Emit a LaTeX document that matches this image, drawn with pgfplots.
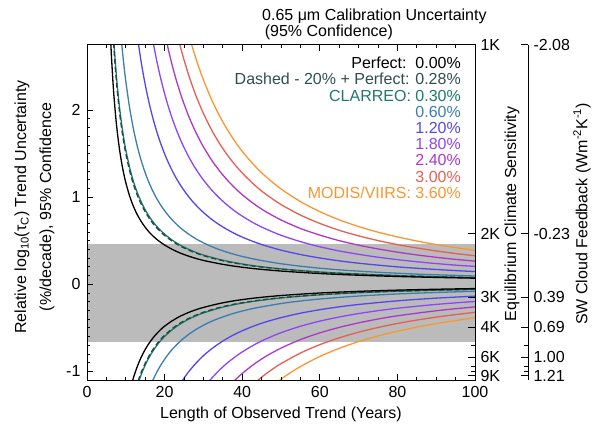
\documentclass[border=0pt]{standalone}
\usepackage{pgfplots}
\pgfplotsset{compat=1.18}
\usepackage{fontspec}
\setmainfont{Liberation Sans}
\definecolor{cDash}{RGB}{30,75,60}
\definecolor{cDashT}{RGB}{47,79,79}
\definecolor{cTeal}{RGB}{30,120,110}
\definecolor{cSteel}{RGB}{60,125,175}
\definecolor{cBlue}{RGB}{85,70,235}
\definecolor{cViolet}{RGB}{140,70,245}
\definecolor{cPurple}{RGB}{175,55,200}
\definecolor{cSalmon}{RGB}{230,95,85}
\definecolor{cOrange}{RGB}{250,150,50}
\definecolor{cBand}{RGB}{187,187,187}
\begin{document}
\fontsize{16}{18}\selectfont
\begin{tikzpicture}
\path[use as bounding box] (-87pt,-46pt) rectangle (510pt,380pt);
\begin{axis}[at={(0pt,0pt)}, anchor=south west, scale only axis,
  width=388pt, height=335.3pt,
  xmin=0, xmax=100, ymin=-1.1, ymax=2.75,
  xtick={0,20,40,60,80,100}, minor x tick num=3,
  ytick={-1,0,1,2}, minor y tick num=9,
  ytick pos=left, xtick pos=both,
  tick align=inside, major tick length=6pt, minor tick length=3pt,
  axis on top, axis line style={line width=0.8pt},
  every tick/.style={line width=0.7pt, black},
  /pgf/number format/assume math mode=true,
  ticklabel style={font=\fontsize{16}{18}\selectfont},
  xticklabel style={yshift=-1pt},
  yticklabel style={xshift=-1pt},
  every axis plot/.append style={line width=1.3pt, line join=round}]
\addplot[fill=cBand, draw=none] coordinates {(0,-0.66) (100,-0.66) (100,0.46) (0,0.46)} -- cycle;
% ---------- upper curves ----------
\addplot[cOrange, smooth] coordinates {(26,2.907)(27,2.748)(28,2.602)(29,2.469)(30,2.347)(32,2.131)(34,1.946)(36,1.787)(38,1.648)(40,1.526)(43,1.370)(46,1.239)(50,1.094)(55,0.949)(60,0.833)(65,0.739)(70,0.662)(75,0.597)(80,0.543)(85,0.496)(90,0.455)(95,0.420)(100,0.389)};
\addplot[cSalmon, smooth] coordinates {(23,2.918)(24,2.738)(25,2.577)(26,2.430)(27,2.296)(28,2.174)(29,2.064)(30,1.962)(32,1.781)(34,1.627)(36,1.494)(38,1.379)(40,1.277)(43,1.146)(46,1.036)(50,0.915)(55,0.794)(60,0.698)(65,0.619)(70,0.555)(75,0.501)(80,0.455)(85,0.416)(90,0.382)(95,0.352)(100,0.327)};
\addplot[cPurple, smooth] coordinates {(20,2.890)(21,2.688)(22,2.507)(23,2.345)(24,2.201)(25,2.071)(26,1.953)(27,1.846)(28,1.749)(29,1.660)(30,1.578)(32,1.433)(34,1.310)(36,1.203)(38,1.110)(40,1.028)(43,0.923)(46,0.835)(50,0.738)(55,0.640)(60,0.564)(65,0.500)(70,0.448)(75,0.405)(80,0.368)(85,0.336)(90,0.309)(95,0.285)(100,0.265)};
\addplot[cViolet, smooth] coordinates {(17,2.788)(18,2.560)(19,2.362)(20,2.188)(21,2.035)(22,1.898)(23,1.777)(24,1.668)(25,1.570)(26,1.481)(27,1.400)(28,1.326)(29,1.259)(30,1.197)(32,1.088)(34,0.995)(36,0.914)(38,0.843)(40,0.782)(43,0.702)(46,0.636)(50,0.562)(55,0.489)(60,0.430)(65,0.382)(70,0.343)(75,0.310)(80,0.282)(85,0.258)(90,0.237)(95,0.219)(100,0.204)};
\addplot[cBlue, smooth] coordinates {(13,2.838)(14,2.541)(15,2.293)(16,2.083)(17,1.904)(18,1.749)(19,1.615)(20,1.497)(21,1.393)(22,1.300)(23,1.217)(24,1.143)(25,1.077)(26,1.017)(27,0.961)(28,0.912)(29,0.866)(30,0.824)(32,0.749)(34,0.686)(36,0.631)(38,0.583)(40,0.541)(43,0.487)(46,0.442)(50,0.391)(55,0.341)(60,0.301)(65,0.268)(70,0.241)(75,0.219)(80,0.199)(85,0.183)(90,0.169)(95,0.156)(100,0.145)};
\addplot[cSteel, smooth] coordinates {(8.5,2.987)(9,2.736)(9.5,2.520)(10,2.331)(11,2.021)(12,1.775)(13,1.577)(14,1.415)(15,1.279)(16,1.164)(17,1.066)(18,0.981)(19,0.908)(20,0.844)(21,0.787)(22,0.736)(23,0.691)(24,0.650)(25,0.614)(26,0.581)(27,0.551)(28,0.523)(29,0.498)(30,0.475)(32,0.434)(34,0.399)(36,0.369)(38,0.342)(40,0.319)(43,0.289)(46,0.264)(50,0.235)(55,0.207)(60,0.184)(65,0.165)(70,0.150)(75,0.137)(80,0.126)(85,0.116)(90,0.108)(95,0.101)(100,0.094)};
\addplot[cTeal, smooth] coordinates {(6.5,3.123)(7,2.739)(7.5,2.436)(8,2.191)(8.5,1.986)(9,1.815)(9.5,1.668)(10,1.542)(11,1.337)(12,1.176)(13,1.047)(14,0.942)(15,0.854)(16,0.780)(17,0.717)(18,0.663)(19,0.616)(20,0.574)(22,0.505)(24,0.449)(26,0.405)(28,0.367)(30,0.335)(34,0.286)(38,0.248)(43,0.212)(50,0.176)(60,0.140)(70,0.117)(80,0.099)(90,0.086)(100,0.076)};
\addplot[cDash, smooth, dash pattern=on 5pt off 3pt] coordinates {(6.5,3.045)(7,2.668)(7.5,2.371)(8,2.131)(8.5,1.932)(9,1.765)(9.5,1.622)(10,1.499)(11,1.300)(12,1.143)(13,1.018)(14,0.916)(15,0.831)(16,0.759)(17,0.698)(18,0.645)(19,0.600)(20,0.560)(22,0.493)(24,0.439)(26,0.395)(28,0.359)(30,0.328)(34,0.280)(38,0.243)(43,0.208)(50,0.173)(60,0.138)(70,0.115)(80,0.098)(90,0.085)(100,0.075)};
\addplot[black, smooth] coordinates {(6.0,2.90)(6.3,2.619)(6.7,2.315)(7,2.129)(7.5,1.876)(8,1.676)(8.5,1.512)(9,1.377)(9.5,1.263)(10,1.166)(11,1.011)(12,0.890)(13,0.795)(14,0.718)(15,0.654)(16,0.599)(17,0.554)(18,0.514)(19,0.480)(20,0.450)(22,0.399)(24,0.358)(26,0.325)(28,0.297)(30,0.273)(34,0.236)(38,0.207)(43,0.179)(50,0.151)(60,0.1225)(70,0.1029)(80,0.0886)(90,0.0778)(100,0.0691)};
% ---------- lower curves ----------
\addplot[cOrange, smooth] coordinates {(48,-1.160)(49,-1.125)(50,-1.091)(52,-1.029)(55,-0.946)(60,-0.830)(65,-0.737)(70,-0.659)(75,-0.594)(80,-0.540)(85,-0.493)(90,-0.452)(95,-0.417)(100,-0.386)};
\addplot[cSalmon, smooth] coordinates {(42,-1.184)(43,-1.143)(44,-1.105)(46,-1.033)(48,-0.970)(50,-0.912)(55,-0.791)(60,-0.694)(65,-0.616)(70,-0.551)(75,-0.497)(80,-0.451)(85,-0.412)(90,-0.378)(95,-0.349)(100,-0.323)};
\addplot[cPurple, smooth] coordinates {(36,-1.200)(37,-1.152)(38,-1.107)(40,-1.025)(43,-0.920)(46,-0.831)(50,-0.734)(55,-0.636)(60,-0.559)(65,-0.496)(70,-0.444)(75,-0.400)(80,-0.363)(90,-0.305)(100,-0.260)};
\addplot[cViolet, smooth] coordinates {(30,-1.196)(31,-1.138)(32,-1.086)(34,-0.992)(36,-0.910)(38,-0.840)(40,-0.778)(43,-0.698)(46,-0.631)(50,-0.557)(55,-0.483)(60,-0.424)(65,-0.377)(70,-0.337)(75,-0.304)(80,-0.276)(90,-0.232)(100,-0.198)};
\addplot[cBlue, smooth] coordinates {(23,-1.222)(24,-1.147)(25,-1.079)(26,-1.017)(27,-0.962)(28,-0.911)(30,-0.821)(32,-0.746)(34,-0.682)(36,-0.626)(38,-0.577)(40,-0.535)(43,-0.480)(46,-0.434)(50,-0.384)(55,-0.333)(60,-0.293)(65,-0.260)(70,-0.233)(80,-0.191)(90,-0.160)(100,-0.137)};
\addplot[cSteel, smooth] coordinates {(16,-1.206)(17,-1.100)(18,-1.009)(19,-0.930)(20,-0.862)(21,-0.801)(22,-0.747)(24,-0.656)(26,-0.583)(28,-0.522)(30,-0.471)(32,-0.428)(34,-0.392)(38,-0.332)(43,-0.277)(50,-0.222)(55,-0.193)(60,-0.170)(70,-0.136)(80,-0.112)(90,-0.095)(100,-0.081)};
\addplot[cTeal, smooth] coordinates {(12,-1.317)(13,-1.161)(14,-1.034)(15,-0.929)(16,-0.841)(17,-0.767)(18,-0.703)(19,-0.648)(20,-0.600)(22,-0.521)(24,-0.458)(26,-0.407)(28,-0.365)(30,-0.330)(34,-0.275)(38,-0.234)(43,-0.196)(50,-0.158)(60,-0.122)(70,-0.098)(80,-0.081)(90,-0.069)(100,-0.060)};
\addplot[cDash, smooth, dash pattern=on 5pt off 3pt] coordinates {(12,-1.288)(13,-1.135)(14,-1.010)(15,-0.908)(16,-0.822)(17,-0.750)(18,-0.687)(19,-0.633)(20,-0.586)(22,-0.509)(24,-0.447)(26,-0.397)(28,-0.357)(30,-0.322)(34,-0.269)(38,-0.229)(43,-0.192)(50,-0.155)(60,-0.120)(70,-0.096)(80,-0.080)(90,-0.068)(100,-0.058)};
\addplot[black, smooth] coordinates {(11,-1.236)(11.5,-1.148)(12,-1.070)(13,-0.940)(14,-0.835)(15,-0.749)(16,-0.678)(17,-0.617)(18,-0.566)(19,-0.521)(20,-0.482)(22,-0.419)(24,-0.368)(26,-0.328)(28,-0.294)(30,-0.267)(34,-0.223)(38,-0.190)(43,-0.160)(50,-0.130)(60,-0.101)(70,-0.082)(80,-0.068)(90,-0.058)(100,-0.050)};
\end{axis}
% Equilibrium climate sensitivity axis
\begin{axis}[at={(0pt,0pt)}, anchor=south west, scale only axis,
  width=388pt, height=335.3pt, xmin=0, xmax=1, ymin=-1.1, ymax=2.75,
  hide x axis, axis y line*=right, axis line style={line width=0.8pt},
  ytick={2.75,0.58,-0.15,-0.49,-0.84,-1.05},
  yticklabels={1K,2K,3K,4K,6K,9K},
  minor ytick={-0.70,-0.94,-1.00},
  tick align=inside, major tick length=7pt, minor tick length=4pt,
  every tick/.style={line width=0.7pt, black},
  ticklabel style={font=\fontsize{16}{18}\selectfont}]
\end{axis}
% SW cloud feedback axis
\begin{axis}[at={(53pt,0pt)}, anchor=south west, scale only axis,
  width=388pt, height=335.3pt, xmin=0, xmax=1, ymin=-1.1, ymax=2.75,
  hide x axis, axis y line*=right, axis line style={line width=0.8pt},
  ytick={2.75,0.58,-0.15,-0.49,-0.84,-1.05},
  yticklabels={-2.08,-0.23,0.39,0.69,1.00,1.21},
  minor ytick={-0.70,-0.94,-1.00},
  tick align=inside, major tick length=7pt, minor tick length=4pt,
  every tick/.style={line width=0.7pt, black},
  ticklabel style={font=\fontsize{16}{18}\selectfont}]
\end{axis}
% texts
\node[anchor=north west, align=left, inner sep=0pt, font=\fontsize{16}{14}\selectfont] at (175pt,371pt)
  {0.65 μm Calibration Uncertainty\\\,(95\% Confidence)};
\node[anchor=north east, align=right, inner sep=0pt, font=\fontsize{16}{16.2}\selectfont] at (374pt,323pt)
  {Perfect:\ \ 0.00\%\\
   \textcolor{cDashT}{Dashed - 20\% + Perfect: 0.28\%}\\
   \textcolor{cTeal}{CLARREO: 0.30\%}\\
   \textcolor{cSteel}{0.60\%}\\
   \textcolor{cBlue}{1.20\%}\\
   \textcolor{cViolet}{1.80\%}\\
   \textcolor{cPurple}{2.40\%}\\
   \textcolor{cSalmon}{3.00\%}\\
   \textcolor{cOrange}{MODIS/VIIRS: 3.60\%}};
\node[rotate=90, inner sep=0pt] at (-65pt,173pt) {Relative log\textsubscript{10}(τ\textsubscript{C}) Trend Uncertainty};
\node[rotate=90, inner sep=0pt] at (-40pt,173pt) {(\%/decade), 95\% Confidence};
\node[inner sep=0pt] at (194pt,-34pt) {Length of Observed Trend (Years)};
\node[rotate=90, inner sep=0pt] at (425pt,166pt) {Equilibrium Climate Sensitivity};
\node[rotate=90, inner sep=0pt] at (495pt,166pt) {SW Cloud Feedback (Wm\textsuperscript{-2}K\textsuperscript{-1})};
\end{tikzpicture}
\end{document}
